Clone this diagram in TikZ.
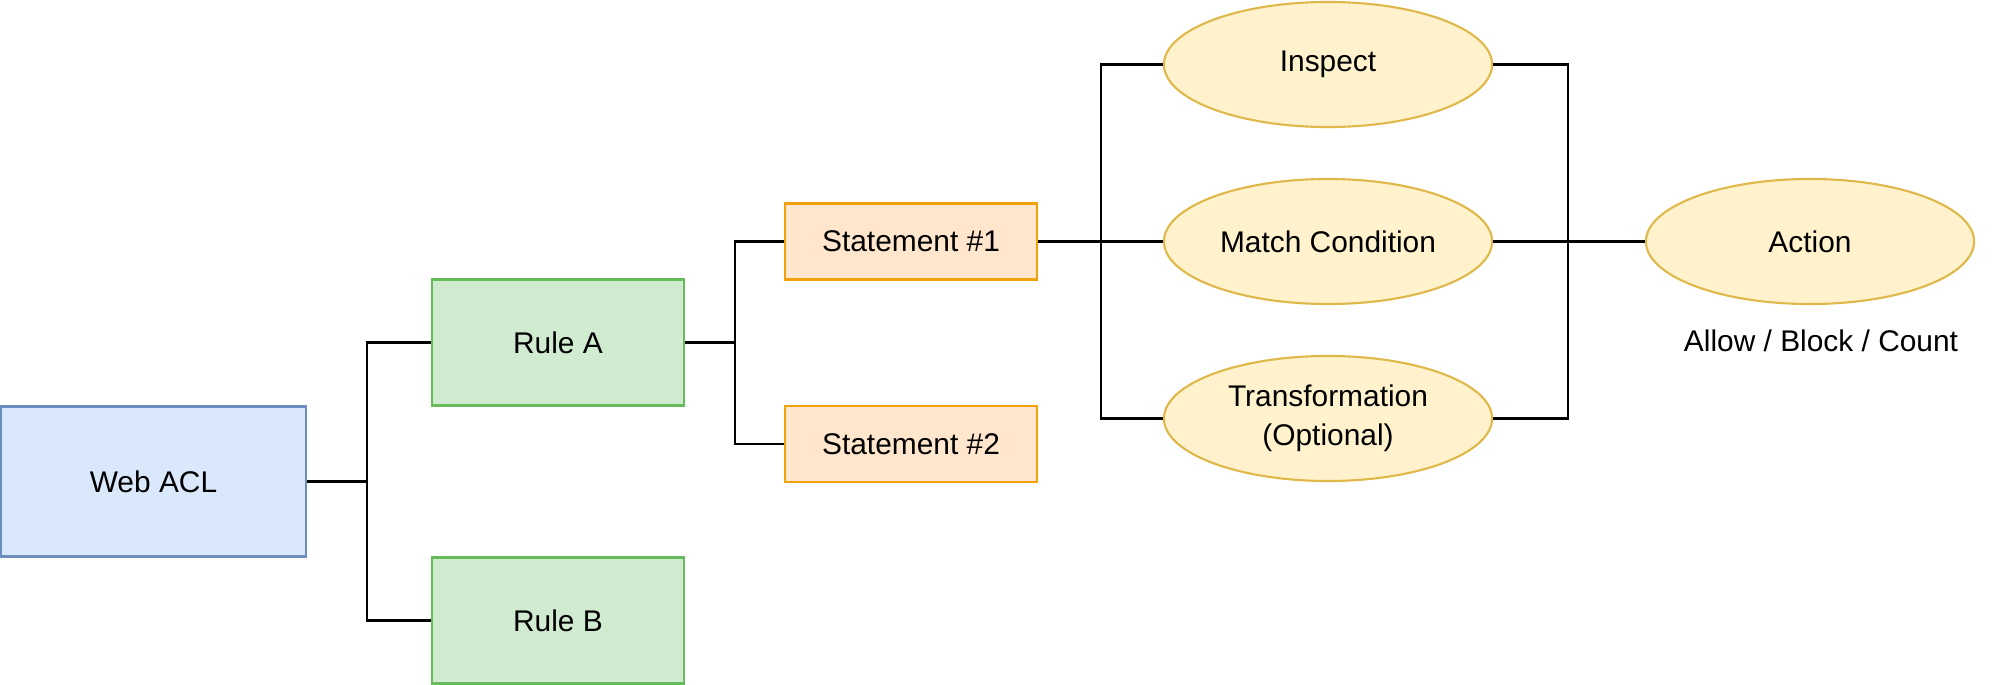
\documentclass[tikz,border=0pt]{standalone}
\usepackage{fontspec}
\setmainfont{Liberation Sans}
\usetikzlibrary{shapes.geometric}
\definecolor{bluefill}{HTML}{DAE8FC}
\definecolor{bluedraw}{HTML}{6C8EBF}
\definecolor{greenfill}{HTML}{D0EBD0}
\definecolor{greendraw}{HTML}{66BB5A}
\definecolor{orangefill}{HTML}{FFE6CC}
\definecolor{orangedraw}{HTML}{F2A00C}
\definecolor{yellowfill}{HTML}{FFF2CC}
\definecolor{yellowdraw}{HTML}{E0B84A}
\tikzset{
  base/.style={inner sep=0pt, font=\fontsize{8.5}{11.2}\selectfont, align=center, line width=0.6pt},
  aclbox/.style={base, rectangle, draw=bluedraw, fill=bluefill, minimum width=3.04cm, minimum height=1.5cm},
  rulebox/.style={base, rectangle, draw=greendraw, fill=greenfill, minimum width=2.52cm, minimum height=1.26cm},
  stmtbox/.style={base, rectangle, draw=orangedraw, fill=orangefill, minimum width=2.52cm, minimum height=0.76cm},
  oval/.style={base, ellipse, draw=yellowdraw, fill=yellowfill, minimum width=3.28cm, minimum height=1.25cm},
  conn/.style={line width=0.75pt, black},
  lbl/.style={font=\fontsize{8.5}{10.2}\selectfont, inner sep=0pt}
}
\begin{document}
\begin{tikzpicture}[x=0.01cm, y=-0.01cm]
\useasboundingbox (0,0) rectangle (2000,685);
\node[aclbox] (acl) at (153.5,481.5) {Web ACL};
\node[rulebox] (ra) at (558,342.5) {Rule A};
\node[rulebox] (rb) at (558,620.5) {Rule B};
\node[stmtbox] (s1) at (911,241.5) {Statement \#1};
\node[stmtbox] (s2) at (911,444) {Statement \#2};
\node[oval] (insp) at (1328,64.5) {Inspect};
\node[oval] (match) at (1328,241.5) {Match Condition};
\node[oval] (trans) at (1328,418.5) {Transformation\\(Optional)};
\node[oval] (act) at (1810,241.5) {Action};
\node[lbl] (abc) at (1821,341) {Allow / Block / Count};
% connectors
\draw[conn] (acl.east) -- (367,481.5);
\draw[conn] (ra.west) -| (367,481.5) |- (rb.west);
\draw[conn] (ra.east) -- (735,342.5);
\draw[conn] (s1.west) -| (735,342.5) |- (s2.west);
\draw[conn] (s1.east) -- (match.west);
\draw[conn] (insp.west) -| (1101,241.5) |- (trans.west);
\draw[conn] (insp.east) -| (1568,241.5) |- (trans.east);
\draw[conn] (match.east) -- (act.west);
\end{tikzpicture}
\end{document}
